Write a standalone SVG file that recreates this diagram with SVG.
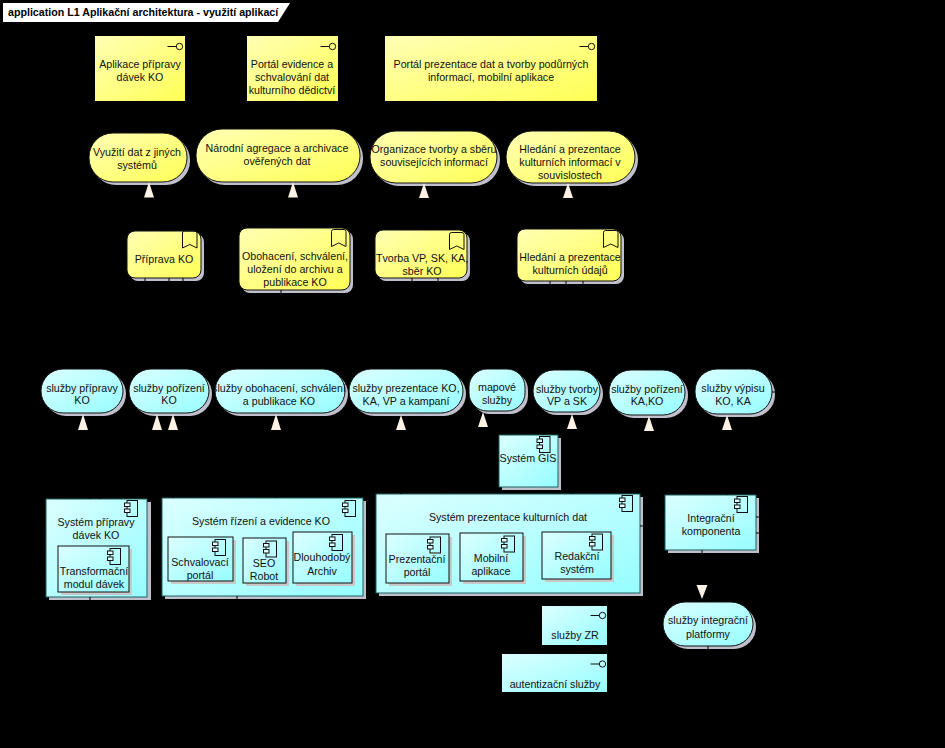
<svg xmlns="http://www.w3.org/2000/svg" width="945" height="748" viewBox="0 0 945 748">
<style>
text{font-family:"Liberation Sans",Arial,sans-serif;font-size:10.67px;fill:#111;text-anchor:middle}
.title{font-weight:bold;text-anchor:start;fill:#000;font-size:10.67px}
.sh{fill:#c0c0cc;stroke:none}
.y{fill:url(#gy);stroke:#111;stroke-width:1}
.yb{fill:url(#gy);stroke:none}
.c{fill:url(#gc);stroke:#111;stroke-width:1}
.cb{fill:url(#gc);stroke:#1d5f5f;stroke-width:1}
.cn{fill:url(#gc);stroke:none}
.in{fill:url(#gc);stroke:#111;stroke-width:1}
.sh2{fill:#c8c8c8;stroke:none}
.ic{fill:none;stroke:#111;stroke-width:1}
.tri{fill:#fbf1e4;stroke:none}
.con{fill:none;stroke:#000;stroke-width:1}
</style>
<defs>
<linearGradient id="gy" x1="0" y1="0" x2="1" y2="1"><stop offset="0" stop-color="#ffffb5"/><stop offset="1" stop-color="#ffff55"/></linearGradient>
<linearGradient id="gc" x1="0" y1="0" x2="1" y2="1"><stop offset="0" stop-color="#dcffff"/><stop offset="1" stop-color="#96fdff"/></linearGradient>
<g id="iface"><path class="ic" d="M-13 0H-4"/><circle class="ic" cx="-1" cy="0" r="3.200"/></g>
<g id="book"><path class="ic" d="M0 2Q0 0 2 0H12.500Q14.500 0 14.500 2V17L7.250 13.500L0 17Z"/></g>
<g id="comp"><rect class="ic" x="2.500" y="0" width="10.500" height="16"/><rect x="0" y="2.500" width="5.500" height="3.500" fill="#dff" stroke="#111"/><rect x="0" y="8.500" width="5.500" height="3.500" fill="#dff" stroke="#111"/></g>
</defs>
<rect width="945" height="748" fill="#000"/>
<g id="title"><path d="M3 3H290L278 22H3Z" fill="#fff"/><text class="title" x="8" y="16">application L1 Aplikační architektura - využití aplikací</text></g>

<g id="n-if1"><rect class="yb" x="95" y="36" width="90" height="65"/><use href="#iface" x="180.500" y="46.500"/><text x="140" y="68">Aplikace přípravy</text><text x="140" y="81">dávek KO</text></g>
<g id="n-if2"><rect class="yb" x="247" y="36" width="91" height="65"/><use href="#iface" x="333.500" y="46.500"/><text x="292" y="68">Portál evidence a</text><text x="292" y="81">schvalování dat</text><text x="292" y="94">kulturního dědictví</text></g>
<g id="n-if3"><rect class="yb" x="385" y="36" width="212" height="65"/><use href="#iface" x="592.500" y="46.500"/><text x="491" y="68">Portál prezentace dat a tvorby podůrných</text><text x="491" y="81">informací, mobilní aplikace</text></g>

<g id="n-r1"><rect class="sh" x="92" y="136" width="98" height="49" rx="24"/><rect class="y" x="89" y="133" width="98" height="49" rx="24"/><text x="137" y="156">Využití dat z jiných</text><text x="137" y="169">systémů</text></g>
<g id="n-r2"><rect class="sh" x="199" y="132" width="164" height="53" rx="26"/><rect class="y" x="196" y="129" width="164" height="53" rx="26"/><text x="277" y="152">Národní agregace a archivace</text><text x="277" y="165">ověřených dat</text></g>
<g id="n-r3"><rect class="sh" x="373" y="134" width="127" height="52" rx="26"/><rect class="y" x="370" y="131" width="127" height="52" rx="26"/><text x="434" y="153">Organizace tvorby a sběru</text><text x="434" y="166">souvisejících informací</text></g>
<g id="n-r4"><rect class="sh" x="509" y="134" width="129" height="52" rx="26"/><rect class="y" x="506" y="131" width="129" height="52" rx="26"/><text x="570" y="153">Hledání a prezentace</text><text x="570" y="166">kulturních informací v</text><text x="570" y="179">souvislostech</text></g>

<g id="n-p1"><rect class="sh" x="130" y="234" width="74" height="47" rx="8"/><rect class="y" x="127" y="231" width="74" height="47" rx="8"/><use href="#book" x="182.500" y="231"/><text x="164" y="263">Příprava KO</text></g>
<g id="n-p2"><rect class="sh" x="242" y="231" width="111" height="62" rx="8"/><rect class="y" x="239" y="228" width="111" height="62" rx="8"/><use href="#book" x="331.500" y="229.500"/><text x="295" y="260">Obohacení, schválení,</text><text x="295" y="273">uložení do archivu a</text><text x="295" y="286">publikace KO</text></g>
<g id="n-p3"><rect class="sh" x="378" y="233" width="92" height="48" rx="8"/><rect class="y" x="375" y="230" width="92" height="48" rx="8"/><use href="#book" x="449.500" y="232.500"/><text x="422" y="262">Tvorba VP, SK, KA,</text><text x="422" y="275">sběr KO</text></g>
<g id="n-p4"><rect class="sh" x="520" y="232" width="104" height="52" rx="8"/><rect class="y" x="517" y="229" width="104" height="52" rx="8"/><use href="#book" x="603.500" y="230.500"/><text x="570" y="261">Hledání a prezentace</text><text x="570" y="274">kulturních údajů</text></g>

<g id="n-s1"><rect class="sh" x="44" y="372" width="82" height="44" rx="22"/><rect class="c" x="41" y="369" width="82" height="44" rx="22"/><text x="82" y="392">služby přípravy</text><text x="82" y="404">KO</text></g>
<g id="n-s2"><rect class="sh" x="132" y="372" width="80" height="44" rx="22"/><rect class="c" x="129" y="369" width="80" height="44" rx="22"/><text x="169" y="392">služby pořízení</text><text x="169" y="404">KO</text></g>
<g id="n-s3"><rect class="sh" x="218" y="372" width="130" height="44" rx="22"/><rect class="c" x="215" y="369" width="130" height="44" rx="22"/><text x="279" y="392">služby obohacení, schválení</text><text x="279" y="405">a publikace KO</text></g>
<g id="n-s4"><rect class="sh" x="352" y="372" width="114" height="44" rx="22"/><rect class="c" x="349" y="369" width="114" height="44" rx="22"/><text x="406" y="392">služby prezentace KO,</text><text x="406" y="405">KA, VP a kampaní</text></g>
<g id="n-s5"><rect class="sh" x="472" y="372" width="56" height="42" rx="18"/><rect class="c" x="469" y="369" width="56" height="42" rx="18"/><text x="497" y="391">mapové</text><text x="497" y="404">služby</text></g>
<g id="n-s6"><rect class="sh" x="536" y="373" width="67" height="42" rx="21"/><rect class="c" x="533" y="370" width="67" height="42" rx="21"/><text x="567" y="393">služby tvorby</text><text x="567" y="405">VP a SK</text></g>
<g id="n-s7"><rect class="sh" x="612" y="373" width="76" height="45" rx="22"/><rect class="c" x="609" y="370" width="76" height="45" rx="22"/><text x="647" y="393">služby pořízení</text><text x="647" y="405">KA,KO</text></g>
<g id="n-s8"><rect class="sh" x="698" y="372" width="77" height="45" rx="22"/><rect class="c" x="695" y="369" width="77" height="45" rx="22"/><text x="733" y="392">služby výpisu</text><text x="733" y="405">KO, KA</text></g>

<g id="n-gis"><rect class="sh" x="502" y="438" width="59" height="52"/><rect class="cb" x="499" y="435" width="59" height="52"/><use href="#comp" x="537" y="436.500"/><text x="528" y="462">Systém GIS</text></g>

<g id="n-c1"><rect class="sh" x="49" y="502" width="102" height="98"/><rect class="cb" x="46" y="499" width="101" height="98"/><use href="#comp" x="124.500" y="500.500"/><text x="96" y="526">Systém přípravy</text><text x="96" y="539">dávek KO</text>
<g id="n-c1a"><rect class="sh2" x="61" y="549" width="71" height="46"/><rect class="in" x="58" y="546" width="71" height="46"/><use href="#comp" x="107.500" y="548.500"/><text x="94" y="575">Transformační</text><text x="94" y="588">modul dávek</text></g></g>

<g id="n-c2"><rect class="sh" x="165" y="501" width="201" height="98"/><rect class="cb" x="162" y="498" width="201" height="98"/><use href="#comp" x="342.500" y="500.500"/><text x="261" y="525">Systém řízení a evidence KO</text>
<g id="n-c2a"><rect class="sh2" x="171" y="540" width="65" height="44"/><rect class="in" x="168" y="537" width="65" height="44"/><use href="#comp" x="212.500" y="539.500"/><text x="200" y="566">Schvalovací</text><text x="200" y="579">portál</text></g>
<g id="n-c2b"><rect class="sh2" x="246" y="541" width="43" height="45"/><rect class="in" x="243" y="538" width="43" height="45"/><use href="#comp" x="263.500" y="541"/><text x="264" y="567">SEO</text><text x="264" y="580">Robot</text></g>
<g id="n-c2c"><rect class="sh2" x="296" y="535" width="59" height="51"/><rect class="in" x="293" y="532" width="59" height="51"/><use href="#comp" x="329.500" y="534.500"/><text x="322" y="561">Dlouhodobý</text><text x="322" y="575">Archiv</text></g></g>

<g id="n-c3"><rect class="sh" x="379" y="497" width="264" height="99"/><rect class="cb" x="376" y="494" width="264" height="99"/><use href="#comp" x="619.500" y="495.500"/><text x="508" y="521">Systém prezentace kulturních dat</text>
<g id="n-c3a"><rect class="sh2" x="389" y="537" width="63" height="49"/><rect class="in" x="386" y="534" width="63" height="49"/><use href="#comp" x="427.500" y="537"/><text x="417" y="563">Prezentační</text><text x="417" y="576">portál</text></g>
<g id="n-c3b"><rect class="sh2" x="463" y="536" width="63" height="48"/><rect class="in" x="460" y="533" width="63" height="48"/><use href="#comp" x="501.500" y="536"/><text x="491" y="562">Mobilní</text><text x="491" y="575">aplikace</text></g>
<g id="n-c3c"><rect class="sh2" x="545" y="535" width="69" height="47"/><rect class="in" x="542" y="532" width="69" height="47"/><use href="#comp" x="589.500" y="534"/><text x="577" y="560">Redakční</text><text x="577" y="573">systém</text></g></g>

<g id="n-int"><rect class="sh" x="668" y="498" width="91" height="55"/><rect class="cb" x="665" y="495" width="91" height="55"/><use href="#comp" x="734.500" y="496.500"/><text x="711" y="522">Integrační</text><text x="711" y="535">komponenta</text></g>

<g id="n-sint"><rect class="sh" x="666" y="605" width="90" height="44" rx="22"/><rect class="c" x="663" y="602" width="90" height="44" rx="22"/><text x="708" y="624">služby integrační</text><text x="708" y="638">platformy</text></g>

<g id="n-zr"><rect class="cn" x="542" y="606" width="65" height="39"/><use href="#iface" x="603.500" y="615.500"/><text x="575" y="639">služby ZR</text></g>
<g id="n-aut"><rect class="cn" x="502" y="654" width="105" height="38"/><use href="#iface" x="603.500" y="664"/><text x="555" y="688">autentizační služby</text></g>

<g id="connectors">
<path class="con" d="M149 231V198M293 228V198M424 230V198M568 229V198"/>
<path class="con" d="M145 278V340H83V369M169 278V369M183 278V340H276V369M281 290V340H169V369M412 278V369M438 278V340H567V370M550 281V330H647V370M566 281V330H733V369M583 281V320H497V369"/>
<path class="con" d="M83 430V497H90V499M90 597V602M237 596V602M157 430V480H100V499M173 430V498M276 430V498M401 430V494M483 427V460H499M572 428V494M649 431V526H640M727 430V495M756 517H785V392H772M756 533H795V380H772M702 550V585M708 646V660H607"/>
<path class="tri" d="M149 182L154 197.500H144Z"/>
<path class="tri" d="M293 182L298 197.500H288Z"/>
<path class="tri" d="M424 183L429 198H419Z"/>
<path class="tri" d="M568 183L573 198H563Z"/>
<path class="tri" d="M83 414L88 430H78Z"/>
<path class="tri" d="M157 414L162 430H152Z"/>
<path class="tri" d="M173 414L178 430H168Z"/>
<path class="tri" d="M276 414L281 430H271Z"/>
<path class="tri" d="M401 415L406 430H396Z"/>
<path class="tri" d="M483 412L488 427H478Z"/>
<path class="tri" d="M572 414L577 429H567Z"/>
<path class="tri" d="M649 416L654 431H644Z"/>
<path class="tri" d="M727 415L732 430H722Z"/>
<path class="tri" d="M702 599L696.500 585H707.500Z"/>
</g>
</svg>
